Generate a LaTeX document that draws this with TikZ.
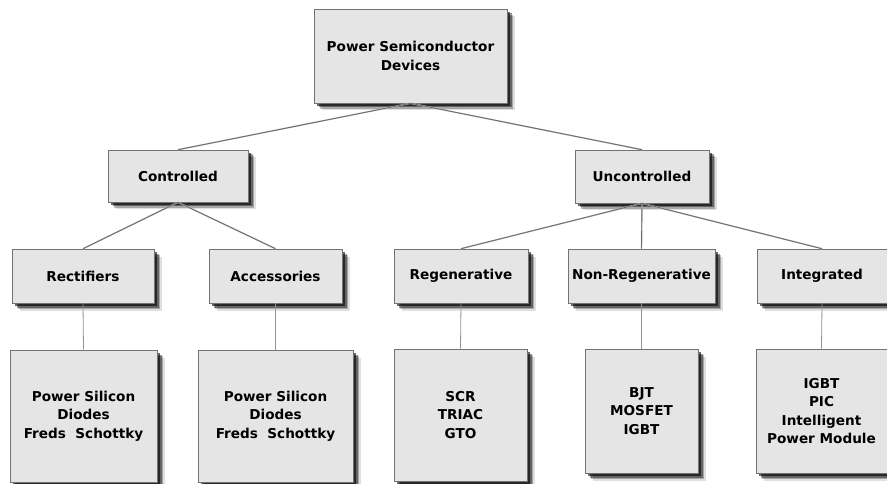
\documentclass[tikz,border=0pt]{standalone}
\usepackage{fontspec}
\setmainfont{DejaVu Sans}
\usetikzlibrary{shadows}
\begin{document}
\begin{tikzpicture}[x=1pt,y=-1pt,
  box/.style={draw=gray!90!black, line width=0.6pt, fill=gray!20, align=center,
    inner sep=0pt, font=\fontsize{13.6}{18.5}\selectfont\bfseries,
    drop shadow={shadow xshift=7.5pt, shadow yshift=-7.5pt, opacity=0.12, fill=black},
    drop shadow={shadow xshift=6pt, shadow yshift=-6pt, opacity=0.25, fill=black},
    drop shadow={shadow xshift=4.5pt, shadow yshift=-4.5pt, opacity=0.4, fill=black},
    drop shadow={shadow xshift=3pt, shadow yshift=-3pt, opacity=0.6, fill=black}},
  link/.style={draw=gray!85!black, line width=0.9pt},
  linkshade/.style={draw=gray!45, line width=1.4pt},
  stem/.style={draw=gray!85, line width=0.8pt}]
\useasboundingbox (0,0) rectangle (887,484);
\fill[white] (0,0) rectangle (887,484);
% level 1
\node[box, minimum width=193pt, minimum height=94pt] (root) at (410.5,56) {Power Semiconductor\\Devices};
% level 2
\node[box, minimum width=140pt, minimum height=52pt] (ctrl) at (178,176) {Controlled};
\node[box, minimum width=134pt, minimum height=53pt] (unc) at (642,176.5) {Uncontrolled};
% level 3
\node[box, minimum width=142pt, minimum height=54pt] (rect) at (83,276) {Rectifiers};
\node[box, minimum width=133pt, minimum height=54pt] (acc) at (275.5,276) {Accessories};
\node[box, minimum width=134pt, minimum height=54pt] (regen) at (461,276) {Regenerative};
\node[box, minimum width=147pt, minimum height=54pt] (nonregen) at (641.5,276) {Non-Regenerative};
\node[box, minimum width=130pt, minimum height=54pt] (integ) at (822,276) {Integrated};
% level 4
\node[box, minimum width=147pt, minimum height=132pt] (leafa) at (83.5,416) {Power Silicon\\Diodes\\Freds\ \ Schottky};
\node[box, minimum width=155pt, minimum height=132pt] (leafb) at (275.5,416) {Power Silicon\\Diodes\\Freds\ \ Schottky};
\node[box, minimum width=133pt, minimum height=132pt] (leafc) at (460.5,415) {SCR\\TRIAC\\GTO};
\node[box, minimum width=113pt, minimum height=124pt] (leafd) at (641.5,411) {BJT\\MOSFET\\IGBT};
\node[box, minimum width=131pt, minimum height=124pt] (leafe) at (821.5,411) {IGBT\\PIC\\Intelligent\\Power Module};
% connectors (shade first)
\begin{scope}[yshift=-1.6pt]
\draw[linkshade] (root.south) -- (ctrl.north);
\draw[linkshade] (root.south) -- (unc.north);
\draw[linkshade] (ctrl.south) -- (rect.north);
\draw[linkshade] (ctrl.south) -- (acc.north);
\draw[linkshade] (unc.south) -- (regen.north);
\draw[linkshade] (unc.south) -- (nonregen.north);
\draw[linkshade] (unc.south) -- (integ.north);
\end{scope}
\draw[link] (root.south) -- (ctrl.north);
\draw[link] (root.south) -- (unc.north);
\draw[link] (ctrl.south) -- (rect.north);
\draw[link] (ctrl.south) -- (acc.north);
\draw[link] (unc.south) -- (regen.north);
\draw[link] (unc.south) -- (nonregen.north);
\draw[link] (unc.south) -- (integ.north);
\draw[stem] (rect.south) -- (leafa.north);
\draw[stem] (acc.south) -- (leafb.north);
\draw[stem] (regen.south) -- (leafc.north);
\draw[stem] (nonregen.south) -- (leafd.north);
\draw[stem] (integ.south) -- (leafe.north);
\end{tikzpicture}
\end{document}
